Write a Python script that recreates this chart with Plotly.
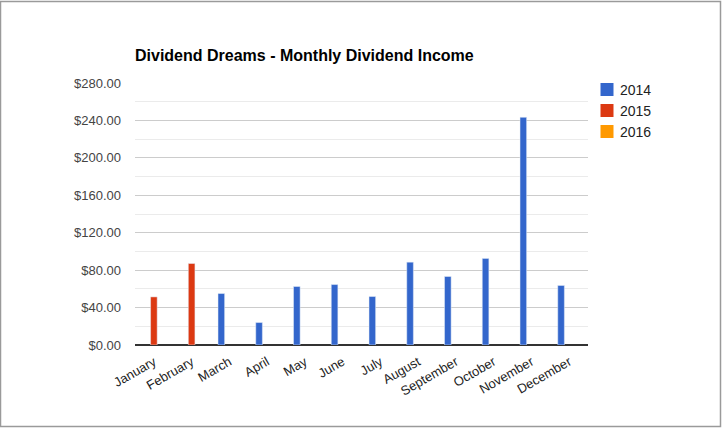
import plotly.graph_objects as go

months = ["January", "February", "March", "April", "May", "June", "July",
          "August", "September", "October", "November", "December"]
div_2014 = [None, None, 55, 24, 62.5, 64.6, 51.8, 88.5, 73.2, 92.5, 243.3, 63.6]
div_2015 = [51.4, 87.1, None, None, None, None, None, None, None, None, None, None]
div_2016 = [None] * 12
series_names = ["2014", "2015", "2016"]
series_colors = ["#3366cc", "#dc3912", "#ff9900"]
y_ticks = [0, 40, 80, 120, 160, 200, 240, 280]
y_tick_text = ["$%.2f" % v for v in y_ticks]

W, H = 722, 428
L, R, T, B = 135, 134, 83, 83
pw, ph = W - L - R, H - T - B


def px_x(x):
    return (x - L) / pw


def px_y(y):
    return (H - B - y) / ph


fig = go.Figure()
for name, vals, color in zip(series_names, [div_2014, div_2015, div_2016], series_colors):
    fig.add_trace(go.Bar(name=name, x=months, y=vals, marker_color=color, showlegend=False))

# custom legend (Google-charts style)
for i, (name, color) in enumerate(zip(series_names, series_colors)):
    cy = 89.5 + 21 * i
    fig.add_shape(type="rect", xref="paper", yref="paper",
                  x0=px_x(600.5), x1=px_x(613.5), y0=px_y(cy + 6.5), y1=px_y(cy - 6.5),
                  line=dict(width=0), fillcolor=color)
    fig.add_annotation(xref="paper", yref="paper", x=px_x(618), y=px_y(cy),
                       xanchor="left", yanchor="middle", showarrow=False,
                       text=name, font=dict(size=14, color="#222"))

# outer border
fig.add_shape(type="rect", xref="paper", yref="paper",
              x0=px_x(0.5), x1=px_x(720.5), y0=px_y(426.5), y1=px_y(1.5),
              line=dict(color="#9a9a9a", width=1.5), fillcolor="rgba(0,0,0,0)", layer="below")

fig.update_layout(
    width=W, height=H,
    margin=dict(l=L, r=R, t=T, b=B),
    paper_bgcolor="white", plot_bgcolor="white",
    barmode="group", bargap=0.36, bargroupgap=0.18,
    font=dict(family="Liberation Sans, Arial", size=13, color="#222"),
    title=dict(text="<b>Dividend Dreams - Monthly Dividend Income</b>",
               x=L / W, xanchor="left", y=1 - 55 / H, yanchor="middle",
               font=dict(size=16, color="#000")),
    showlegend=False,
)
fig.update_xaxes(tickangle=-30, showgrid=False, showline=False, ticks="",
                 ticklabelstandoff=6, tickfont=dict(size=13, color="#222"))
fig.update_yaxes(range=[0, 280], tickvals=y_ticks, ticktext=y_tick_text,
                 showgrid=True, gridcolor="#cccccc", gridwidth=1,
                 minor=dict(dtick=20, showgrid=True, gridcolor="#ebebeb", gridwidth=1),
                 zeroline=True, zerolinecolor="#333", zerolinewidth=1.5,
                 ticklabelstandoff=13, tickfont=dict(size=13, color="#444"))

fig.write_html("out.html")
